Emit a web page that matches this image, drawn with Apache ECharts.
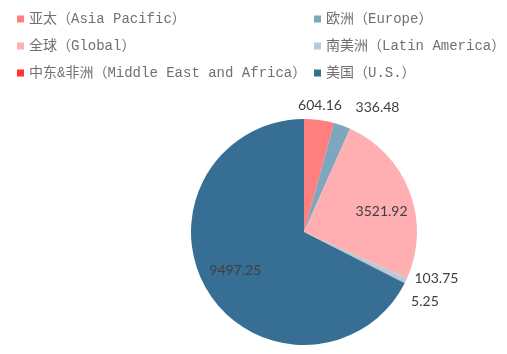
<!DOCTYPE html>
<html><head><meta charset="utf-8">
<script src="https://cdn.jsdelivr.net/npm/echarts@6/dist/echarts.min.js"></script>
<style>html,body{margin:0;padding:0;background:#fff}#c{width:507px;height:354px}</style>
</head><body><div id="c"></div>
<script>
const categories = ['亚太（Asia Pacific）','欧洲（Europe）','全球（Global）','南美洲（Latin America）','中东&非洲（Middle East and Africa）','美国（U.S.）'];
const values = [604.16, 336.48, 3521.92, 103.75, 5.25, 9497.25];
const colors = ['#FF7F7F','#7FA6BF','#FFAFB1','#B4CCDA','#FF3333','#376F94'];
const insideLabels = [false,false,true,false,false,true];
const labelShift = [[-27,-9],[-11,-23],[22,1],[-4,-5],[-4,2],[-18,7]];

const chart = echarts.init(document.getElementById('c'), null, {renderer:'canvas'});
const legendText = {color:'#707070', fontSize:14, fontFamily:'"Liberation Mono","Noto Sans CJK SC",monospace', lineHeight:14};
chart.setOption({
  animation:false,
  color: colors,
  legend:[
    {orient:'vertical', left:12, top:7, itemWidth:7, itemHeight:7, itemGap:13, icon:'rect', textStyle:legendText,
     data:[categories[0],categories[2],categories[4]]},
    {orient:'vertical', left:309, top:7, itemWidth:7, itemHeight:7, itemGap:13, icon:'rect', textStyle:legendText,
     data:[categories[1],categories[3],categories[5]]}
  ],
  series:[{
    type:'pie',
    center:[304,232],
    radius:[0,113],
    startAngle:90,
    clockwise:true,
    avoidLabelOverlap:true,
    label:{show:true, position:'outside', color:'#404040', fontSize:14, fontFamily:'Lato, "Open Sans", sans-serif', formatter:(p)=>p.value.toFixed(2)},
    labelLine:{show:false, length:6, length2:0},
    labelLayout:(p)=>({dx:labelShift[p.dataIndex][0], dy:labelShift[p.dataIndex][1]}),
    emphasis:{disabled:true},
    data: categories.map((n,i)=>({name:n, value:values[i], itemStyle:{color:colors[i]},
      label: insideLabels[i] ? {position:'inside'} : undefined}))
  }]
});
</script></body></html>
